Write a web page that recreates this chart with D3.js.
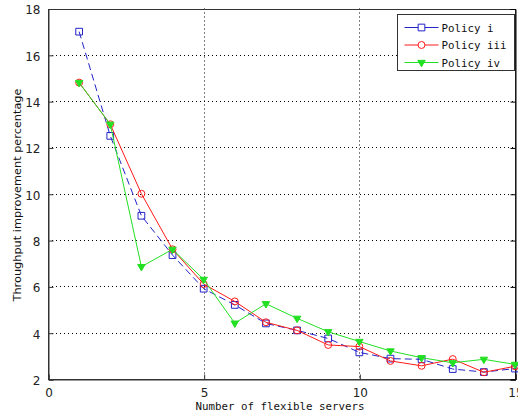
<!DOCTYPE html>
<html>
<head>
<meta charset="utf-8">
<script src="https://cdn.jsdelivr.net/npm/d3@7"></script>
<style>
  body { margin: 0; background: #fff; }
  svg { display: block; }
</style>
</head>
<body>
<svg width="518" height="418"></svg>
<script>
const servers = [1, 2, 3, 4, 5, 6, 7, 8, 9, 10, 11, 12, 13, 14, 15];
const policyI = [17.0, 12.5, 9.05, 7.35, 5.9, 5.2, 4.4, 4.1, 3.75, 3.15, 2.88, 2.85, 2.43, 2.3, 2.45];
const policyIII = [14.8, 13.0, 10.0, 7.6, 6.1, 5.35, 4.45, 4.1, 3.47, 3.4, 2.78, 2.57, 2.86, 2.29, 2.55];
const policyIV = [14.8, 13.0, 6.85, 7.6, 6.3, 4.41, 5.25, 4.62, 4.04, 3.62, 3.21, 2.92, 2.7, 2.85, 2.63];
const seriesNames = ["Policy i", "Policy iii", "Policy iv"];
const xTicks = [0, 5, 10, 15];
const yTicks = [2, 4, 6, 8, 10, 12, 14, 16, 18];

const series = [
  { name: seriesNames[0], values: policyI, color: "#2323c8", marker: "square", dash: "7,4" },
  { name: seriesNames[1], values: policyIII, color: "#ff1a1a", marker: "circle", dash: null },
  { name: seriesNames[2], values: policyIV, color: "#22e022", marker: "triangle", dash: null }
];

const svg = d3.select("svg");
const plotLeft = 48, plotRight = 515, plotTop = 8.5, plotBottom = 379;

// prettier-ignore
const x = d3.scaleLinear()
    .domain([0, 15])
    .range([plotLeft, plotRight])

// prettier-ignore
const y = d3.scaleLinear()
    .domain([2, 18])
    .range([plotBottom, plotTop])

// grid
svg.append("g")
  .selectAll("line")
  .data(xTicks.slice(1, -1))
  .join("line")
  .attr("x1", d => Math.round(x(d)) + 0.5).attr("x2", d => Math.round(x(d)) + 0.5)
  .attr("y1", plotTop).attr("y2", plotBottom)
  .attr("stroke", "#000").attr("stroke-dasharray", "1,3");

svg.append("g")
  .selectAll("line")
  .data(yTicks.slice(1, -1))
  .join("line")
  .attr("x1", plotLeft).attr("x2", plotRight)
  .attr("y1", d => Math.round(y(d)) + 0.5).attr("y2", d => Math.round(y(d)) + 0.5)
  .attr("stroke", "#000").attr("stroke-dasharray", "1,3");

// box
svg.append("rect")
  .attr("x", plotLeft + 0.5).attr("y", Math.round(plotTop) + 0.5)
  .attr("width", plotRight - plotLeft).attr("height", Math.round(plotBottom) - Math.round(plotTop))
  .attr("fill", "none").attr("stroke", "#333");

// prettier-ignore
const xAxis = d3.axisBottom(x)
    .tickValues(xTicks)
    .tickSize(-5)
    .tickPadding(9)

// prettier-ignore
const yAxis = d3.axisLeft(y)
    .tickValues(yTicks)
    .tickSize(-5)
    .tickPadding(8)

const gx = svg.append("g")
  .attr("transform", `translate(0.5, ${Math.round(plotBottom) + 0.5})`)
  .call(xAxis);
const gy = svg.append("g")
  .attr("transform", `translate(${plotLeft + 0.5}, 0.5)`)
  .call(yAxis);

// right-side ticks
svg.append("g")
  .attr("transform", `translate(${plotRight + 0.5}, 0.5)`)
  .call(d3.axisRight(y).tickValues(yTicks).tickSize(-5).tickFormat(""));

[gx, gy].forEach(g => {
  g.select(".domain").attr("stroke", "#333");
  g.selectAll(".tick line").attr("stroke", "#333");
  g.selectAll("text")
    .attr("font-family", "DejaVu Sans, sans-serif")
    .attr("font-size", 12)
    .attr("fill", "#222");
});
gy.selectAll("text").attr("dy", "0.4em");

// lines
const line = d3.line()
  .x((d, i) => x(servers[i]))
  .y(d => y(d));

const symbolFor = m => m === "square" ? d3.symbolSquare : m === "circle" ? d3.symbolCircle : d3.symbolTriangle;
const sizeFor = m => m === "square" ? 45 : m === "circle" ? 38 : 24;

series.forEach(s => {
  svg.append("path")
    .attr("d", line(s.values))
    .attr("fill", "none")
    .attr("stroke", s.color)
    .attr("stroke-width", 1)
    .attr("stroke-dasharray", s.dash);

  svg.append("g")
    .selectAll("path")
    .data(s.values)
    .join("path")
    .attr("transform", (d, i) => `translate(${x(servers[i])}, ${y(d)})` + (s.marker === "triangle" ? " rotate(180)" : ""))
    .attr("d", d3.symbol().type(symbolFor(s.marker)).size(sizeFor(s.marker)))
    .attr("fill", s.marker === "triangle" ? s.color : "none")
    .attr("stroke", s.color)
    .attr("stroke-width", 1);
});

// legend
const legend = svg.append("g").attr("transform", "translate(397.5, 14.5)");
legend.append("rect")
  .attr("width", 117).attr("height", 56)
  .attr("fill", "#fff").attr("stroke", "#333");

series.forEach((s, i) => {
  const ly = 13 + i * 17.5;
  legend.append("line")
    .attr("x1", 7).attr("x2", 41).attr("y1", ly).attr("y2", ly)
    .attr("stroke", s.color).attr("stroke-width", 1);
  legend.append("path")
    .attr("transform", `translate(24, ${ly})` + (s.marker === "triangle" ? " rotate(180)" : ""))
    .attr("d", d3.symbol().type(symbolFor(s.marker)).size(sizeFor(s.marker)))
    .attr("fill", s.marker === "triangle" ? s.color : "#fff")
    .attr("stroke", s.color);
  legend.append("text")
    .attr("x", 44).attr("y", ly + 4)
    .attr("font-family", "DejaVu Sans Mono, monospace")
    .attr("font-size", 10.8)
    .attr("fill", "#111")
    .text(s.name);
});

// axis titles
svg.append("text")
  .attr("x", 280).attr("y", 410)
  .attr("text-anchor", "middle")
  .attr("font-family", "DejaVu Sans Mono, monospace")
  .attr("font-size", 10.8)
  .attr("fill", "#111")
  .text("Number of flexible servers");

svg.append("text")
  .attr("transform", `translate(21, 195) rotate(-90)`)
  .attr("text-anchor", "middle")
  .attr("font-family", "DejaVu Sans, sans-serif")
  .attr("font-size", 11.3)
  .attr("fill", "#111")
  .text("Throughput improvement percentage");
</script>
</body>
</html>
